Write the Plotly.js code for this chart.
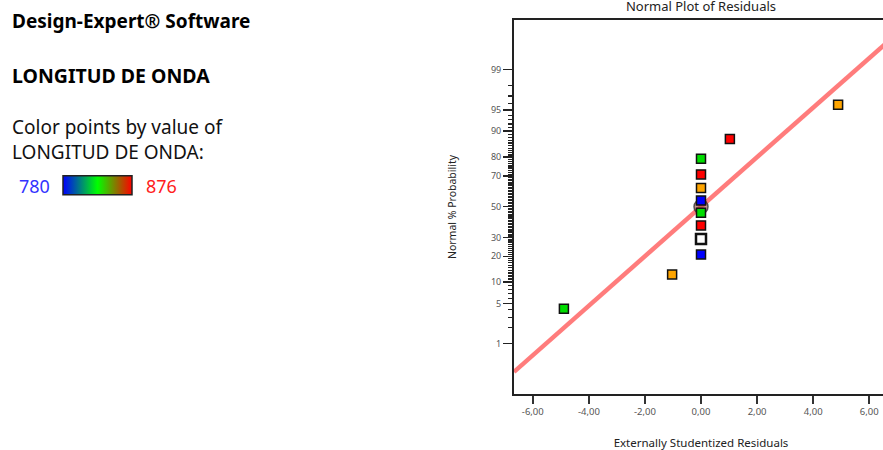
<!DOCTYPE html>
<html>
<head>
<meta charset="utf-8">
<script src="https://cdn.plot.ly/plotly-3.0.1.min.js"></script>
<style>
html,body{margin:0;padding:0;overflow:hidden;background:#fff;}
#chart{width:890px;height:450px;}
</style>
</head>
<body>
<div id="chart"></div>
<script>
// ---- data ----
var residuals = [-4.89, -1.03, 0.00, 0.00, 0.00, 0.00, 0.00, 0.00, 0.00, 0.00, 1.03, 4.89];
var normalProb = [4.17, 12.50, 20.83, 29.17, 37.50, 45.83, 54.17, 62.50, 70.83, 79.17, 87.50, 95.83];
var wavelength = [812, 844, 780, null, 876, 812, 780, 844, 876, 812, 876, 844];
var centerX = [0.00];
var centerProb = [50];
var fitX = [-6.67, 6.67];
var fitProb = [0.252, 99.748];
var xTickVals = [-6, -4, -2, 0, 2, 4, 6];
var xTickText = ["-6,00", "-4,00", "-2,00", "0,00", "2,00", "4,00", "6,00"];
var yTickProb = [1, 5, 10, 20, 30, 50, 70, 80, 90, 95, 99];
var yTickText = ["1", "5", "10", "20", "30", "50", "70", "80", "90", "95", "99"];
var scaleMin = 780, scaleMax = 876;

// ---- helpers ----
function probit(pct) {
  var p = pct / 100;
  var a=[-3.969683028665376e+01,2.209460984245205e+02,-2.759285104469687e+02,1.383577518672690e+02,-3.066479806614716e+01,2.506628277459239e+00];
  var b=[-5.447609879822406e+01,1.615858368580409e+02,-1.556989798598866e+02,6.680131188771972e+01,-1.328068155288572e+01];
  var c=[-7.784894002430293e-03,-3.223964580411365e-01,-2.400758277161838e+00,-2.549732539343734e+00,4.374664141464968e+00,2.938163982698783e+00];
  var d=[7.784695709041462e-03,3.224671290700398e-01,2.445134137142996e+00,3.754408661907416e+00];
  var pl=0.02425, q, r;
  if (p < pl) { q=Math.sqrt(-2*Math.log(p)); return (((((c[0]*q+c[1])*q+c[2])*q+c[3])*q+c[4])*q+c[5])/((((d[0]*q+d[1])*q+d[2])*q+d[3])*q+1); }
  if (p > 1-pl) { q=Math.sqrt(-2*Math.log(1-p)); return -(((((c[0]*q+c[1])*q+c[2])*q+c[3])*q+c[4])*q+c[5])/((((d[0]*q+d[1])*q+d[2])*q+d[3])*q+1); }
  q=p-0.5; r=q*q;
  return (((((a[0]*r+a[1])*r+a[2])*r+a[3])*r+a[4])*r+a[5])*q/(((((b[0]*r+b[1])*r+b[2])*r+b[3])*r+b[4])*r+1);
}
var colorOf = {780:'#0000ff', 812:'#00dd00', 844:'#ffa500', 876:'#ff0000'};
var colorscale = [[0,'#0000ff'],[0.5,'#00ff00'],[1,'#ff0000']];

var W = 890, H = 450;
var M = {l:514, r:2, t:20, b:56, autoexpand: false};
var PW = W - M.l - M.r, PH = H - M.t - M.b;
function px(x){ return (x - M.l) / PW; }
function py(y){ return (H - M.b - y) / PH; }

var minorProb = [];
for (var i = 1; i <= 99; i++) if (yTickProb.indexOf(i) < 0) minorProb.push(i);

var ptColors = wavelength.map(function(w){ return w === null ? '#ffffff' : colorOf[w]; });
var ptLineW = wavelength.map(function(w){ return w === null ? 2.5 : 1.5; });
var ptSize = wavelength.map(function(w){ return w === null ? 10 : 9; });

var traces = [
  {
    x: fitX, y: fitProb.map(probit), mode: 'lines', type: 'scatter',
    line: {color: 'rgba(255,110,110,0.9)', width: 4.5}, hoverinfo: 'skip', showlegend: false
  },
  {
    x: centerX, y: centerProb.map(probit), mode: 'markers', type: 'scatter',
    marker: {symbol: 'circle', size: 14, color: 'rgba(150,60,60,0.55)', opacity: 1, line: {color: 'rgba(50,50,50,0.8)', width: 1.5}},
    showlegend: false
  },
  {
    x: residuals, y: normalProb.map(probit), mode: 'markers', type: 'scatter',
    marker: {symbol: 'square', size: ptSize, color: ptColors, opacity: 1, line: {color: '#111', width: ptLineW}},
    showlegend: false
  },
  {
    x: [null], y: [null], mode: 'markers', type: 'scatter', showlegend: false, hoverinfo: 'skip',
    marker: {color: [scaleMin, scaleMax], cmin: scaleMin, cmax: scaleMax, colorscale: colorscale, showscale: true,
      colorbar: {orientation: 'h', xref: 'paper', yref: 'paper', x: px(63), xanchor: 'left',
        y: py(185.5), yanchor: 'middle', len: 69 / PW, lenmode: 'fraction', thickness: 19,
        outlinewidth: 1.5, outlinecolor: '#222', showticklabels: false, ticks: '', xpad: 0, ypad: 0, borderwidth: 0}}
  }
];

var baseFont = 'Noto Sans, Open Sans, sans-serif';
var annotations = [
  {text: '<b>Design-Expert® Software</b>', x: px(10), y: py(21), font: {size: 19, color: '#000'}},
  {text: '<b>LONGITUD DE ONDA</b>', x: px(10), y: py(75), font: {size: 19.5, color: '#000'}},
  {text: 'Color points by value of', x: px(10), y: py(127), font: {size: 19, color: '#111'}},
  {text: 'LONGITUD DE ONDA:', x: px(10), y: py(152), font: {size: 19, color: '#111'}},
  {text: String(scaleMin), x: px(17), y: py(186), font: {size: 18, color: '#3333ff'}},
  {text: String(scaleMax), x: px(144), y: py(186), font: {size: 18, color: '#ff2020'}}
].map(function(a){
  a.xref = 'paper'; a.yref = 'paper'; a.xanchor = 'left'; a.yanchor = 'middle';
  a.showarrow = false; a.font.family = baseFont; return a;
});

var layout = {
  width: W, height: H,
  margin: M,
  paper_bgcolor: '#fff', plot_bgcolor: '#fff',
  font: {family: baseFont},
  title: {text: 'Normal Plot of Residuals', xref: 'paper', x: 0.5, xanchor: 'center',
    yref: 'container', y: 1 - 6 / H, yanchor: 'middle', font: {size: 13, color: '#222'}},
  xaxis: {
    range: [-6.67, 6.67], tickmode: 'array', tickvals: xTickVals, ticktext: xTickText,
    ticks: 'outside', ticklen: 8, tickwidth: 1.5, tickcolor: '#333',
    showline: true, linecolor: '#222', linewidth: 2, mirror: true,
    showgrid: false, zeroline: false,
    tickfont: {size: 9.5, color: '#555'},
    title: {text: 'Externally Studentized Residuals', font: {size: 11.5, color: '#222'}, standoff: 22}
  },
  yaxis: {
    range: [-3.18, 3.17], tickmode: 'array', tickvals: yTickProb.map(probit), ticktext: yTickText,
    ticks: 'outside', ticklen: 9, tickwidth: 1.5, tickcolor: '#222',
    minor: {tickmode: 'array', tickvals: minorProb.map(probit), ticks: 'outside', ticklen: 4, tickwidth: 1.2, tickcolor: '#222', showgrid: false},
    showline: true, linecolor: '#222', linewidth: 2, mirror: true,
    showgrid: false, zeroline: false,
    tickfont: {size: 9, color: '#555'},
    title: {text: 'Normal % Probability', font: {size: 10.5, color: '#222'}, standoff: 32}
  },
  annotations: annotations
};

Plotly.newPlot('chart', traces, layout, {displayModeBar: false, staticPlot: true});
</script>
</body>
</html>
